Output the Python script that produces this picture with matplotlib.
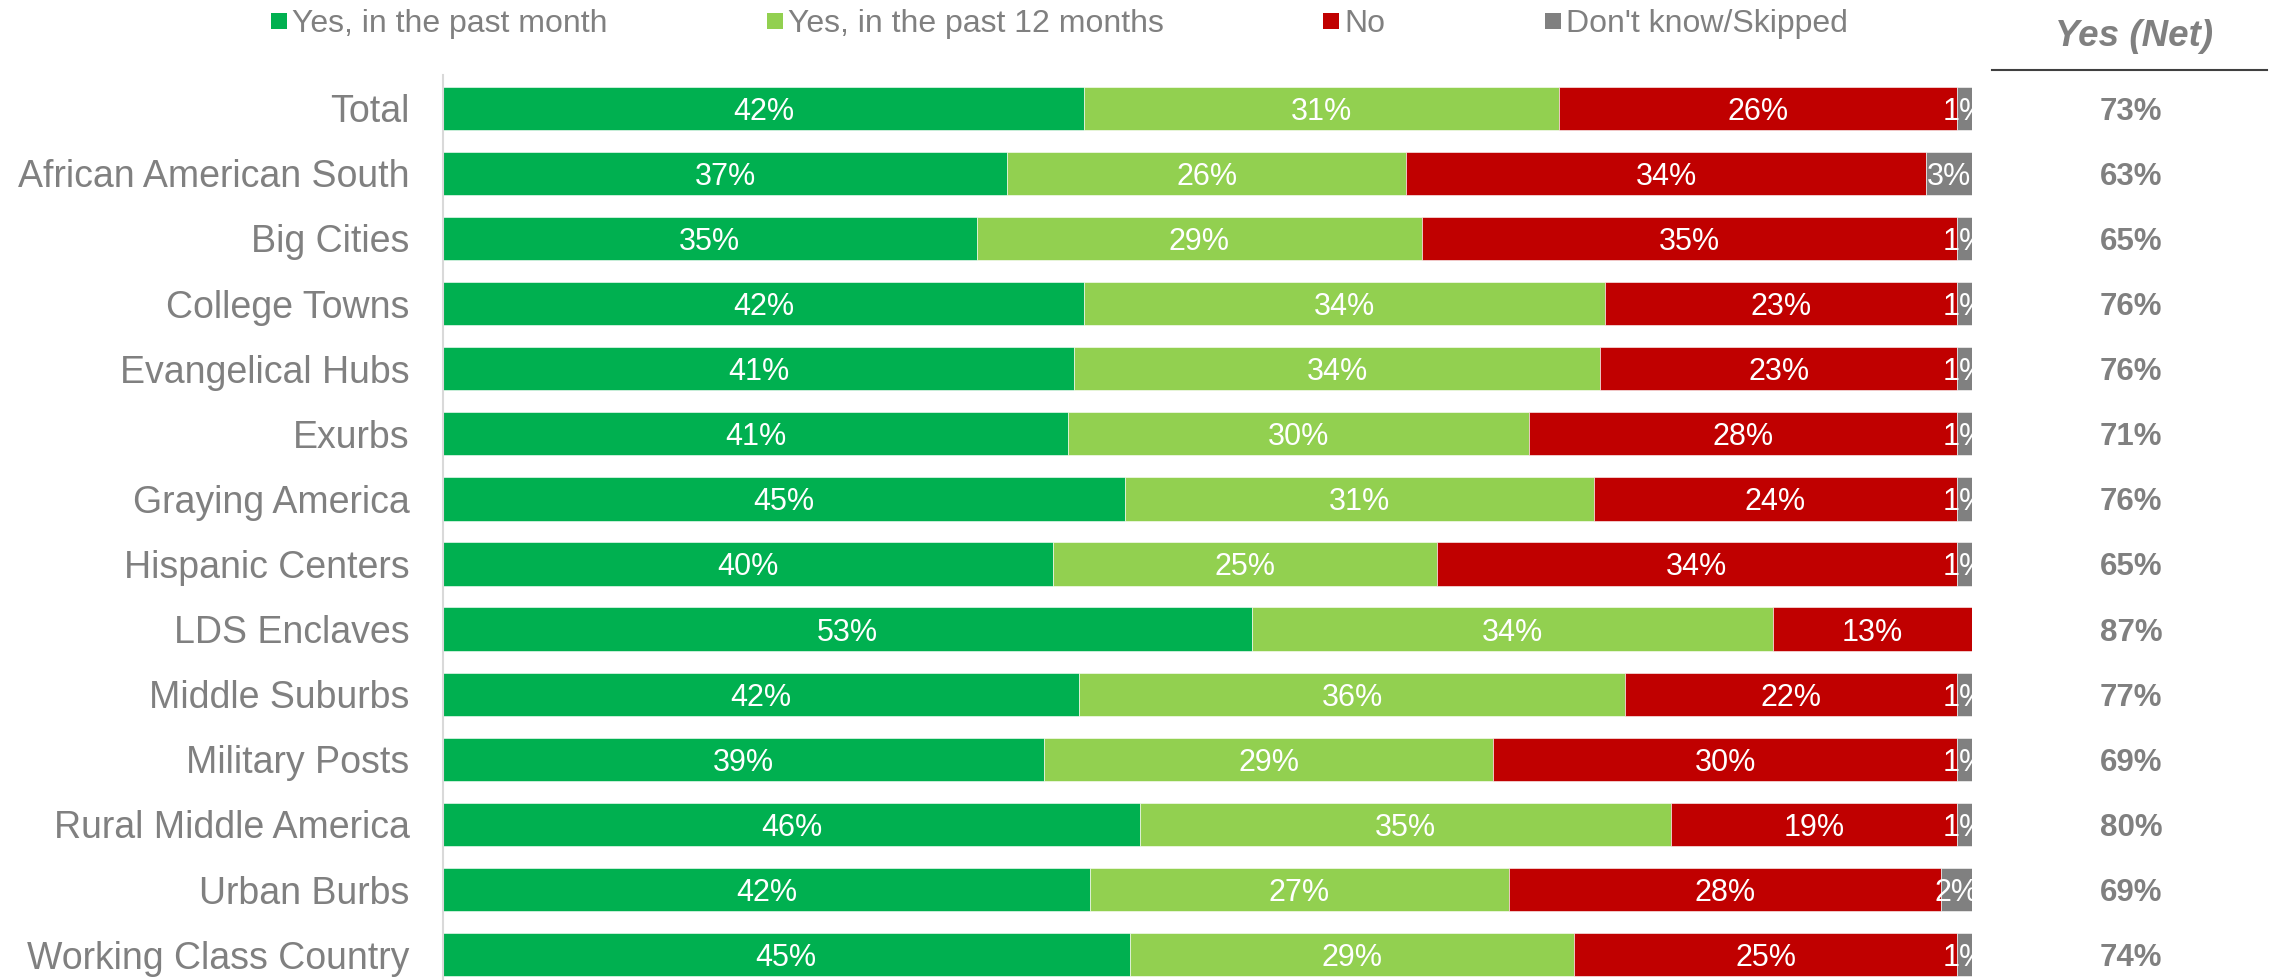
import matplotlib
matplotlib.use("Agg")
import matplotlib.pyplot as plt
from matplotlib.lines import Line2D
from matplotlib.transforms import blended_transform_factory

plt.rcParams['font.family'] = ['Liberation Sans', 'DejaVu Sans']

categories = ["Total", "African American South", "Big Cities", "College Towns",
              "Evangelical Hubs", "Exurbs", "Graying America", "Hispanic Centers",
              "LDS Enclaves", "Middle Suburbs", "Military Posts",
              "Rural Middle America", "Urban Burbs", "Working Class Country"]
past_month = [41.9, 36.9, 34.9, 41.9, 41.3, 40.9, 44.6, 39.9, 52.9, 41.6, 39.3, 45.6, 42.3, 44.9]
past_12 = [31.1, 26.1, 29.1, 34.1, 34.4, 30.1, 30.7, 25.1, 34.1, 35.7, 29.4, 34.7, 27.4, 29.1]
no = [26.0, 34.0, 35.0, 23.0, 23.3, 28.0, 23.7, 34.0, 13.0, 21.7, 30.3, 18.7, 28.3, 25.0]
dont_know = [1.0, 3.0, 1.0, 1.0, 1.0, 1.0, 1.0, 1.0, 0.0, 1.0, 1.0, 1.0, 2.0, 1.0]
yes_net = [73, 63, 65, 76, 76, 71, 76, 65, 87, 77, 69, 80, 69, 74]

series_names = ["Yes, in the past month", "Yes, in the past 12 months", "No", "Don't know/Skipped"]
colors = ["#00B050", "#92D050", "#C00000", "#808080"]
text_gray = "#808080"

W, H = 2277, 980
fig = plt.figure(figsize=(W / 100, H / 100), dpi=100)
ax = fig.add_axes([443 / W, 0, (1972 - 443) / W, 1 - 75 / H])

y = list(range(len(categories)))
left = [0.0] * len(categories)
for vals, col, name in zip([past_month, past_12, no, dont_know], colors, series_names):
    ax.barh(y, vals, left=left, height=0.665, color=col, label=name,
            edgecolor='white', linewidth=0.4)
    for yi, l, v in zip(y, left, vals):
        if v > 0:
            ax.text(l + v / 2, yi, f"{v:.0f}%", ha='center', va='center_baseline',
                    color='white', fontsize=22, clip_on=True)
    left = [a + b for a, b in zip(left, vals)]

ax.set_xlim(0, 100)
ax.set_ylim(len(categories) - 1 + 0.39, -0.51)
ax.set_yticks(y)
ax.set_yticklabels(categories, fontsize=27, color=text_gray)
ax.tick_params(axis='y', length=0, pad=24)
ax.set_xticks([])
for s in ['top', 'right', 'bottom']:
    ax.spines[s].set_visible(False)
ax.spines['left'].set_color('#d9d9d9')
ax.spines['left'].set_linewidth(1.5)

# Yes (Net) column
tr = blended_transform_factory(fig.transFigure, ax.transData)
for yi, v in zip(y, yes_net):
    ax.text(2131 / W, yi, f"{v}%", transform=tr, ha='center', va='center_baseline',
            fontsize=22.5, fontweight='bold', color=text_gray, clip_on=False)
fig.text(2134 / W, 1 - 33 / H, "Yes (Net)", ha='center', va='center_baseline', fontsize=26.5,
         fontweight='bold', fontstyle='italic', color=text_gray)
fig.add_artist(Line2D([1992 / W, 2267 / W], [1 - 70 / H, 1 - 70 / H],
                      transform=fig.transFigure, color='#404040', linewidth=1.5))

# legend
handles = [Line2D([], [], marker='s', linestyle='', markersize=11.5, color=c,
                  markeredgewidth=0) for c in colors]
leg = fig.legend(handles, series_names, loc='center left',
                 bbox_to_anchor=(270 / W, 1 - 24 / H), ncol=4, frameon=False,
                 fontsize=23, handlelength=0.55, handletextpad=0.15,
                 columnspacing=4.95, borderpad=0, borderaxespad=0)
for t in leg.get_texts():
    t.set_color(text_gray)

fig.savefig("out.png", dpi=100)
